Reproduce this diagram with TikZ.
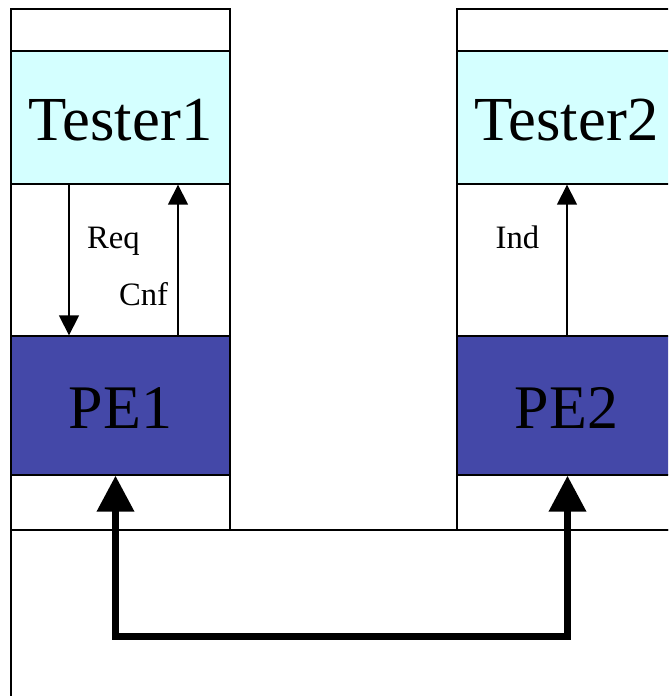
\documentclass[tikz,border=0pt]{standalone}
\usepackage{fontspec}
\setmainfont{Liberation Serif}
\usetikzlibrary{arrows.meta,calc}
\definecolor{testerfill}{RGB}{212,255,255}
\definecolor{pefill}{RGB}{68,72,168}
\tikzset{
  frame/.style={draw=black,line width=1pt},
  testerbox/.style={frame,fill=testerfill,minimum width=164.25pt,minimum height=99.75pt,
    text height=33.75pt,text depth=0pt,inner sep=0pt,font=\fontsize{47pt}{56pt}\selectfont},
  pebox/.style={frame,fill=pefill,minimum width=164.25pt,minimum height=104.25pt,
    text height=33.75pt,text depth=0pt,inner sep=0pt,font=\fontsize{46.5pt}{56pt}\selectfont},
  msg/.style={line width=1.1pt,-{Triangle[width=15pt,length=15pt]}},
  lbl/.style={anchor=base,inner sep=0pt,font=\fontsize{24.5pt}{29pt}\selectfont},
  bigarrow/.style={line width=5.25pt,{Triangle[width=27pt,length=27pt]}-{Triangle[width=27pt,length=27pt]}}
}
\begin{document}
\begin{tikzpicture}[x=0.75pt,y=-0.75pt]
\clip (0,0) rectangle (668,696);
\fill[white] (0,0) rectangle (668,696);
\useasboundingbox (0,0) rectangle (668,696);
% columns and lower area
\draw[frame] (11,9) rectangle (230,530);
\draw[frame] (457,9) rectangle (676,530);
\draw[frame] (11,530) rectangle (700,720);
% boxes
\node[testerbox] (T1) at (120.5,117.5) {Tester1};
\node[testerbox] (T2) at (566.5,117.5) {Tester2};
\node[pebox] (PE1) at (120.5,405.5) {PE1};
\node[pebox] (PE2) at (566.5,405.5) {PE2};
% messages
\draw[msg] ($(T1.south)+(-51.5,0)$) -- ($(PE1.north)+(-51.5,0)$);
\draw[msg] ($(PE1.north)+(57.5,0)$) -- ($(T1.south)+(57.5,0)$);
\draw[msg] ($(PE2.north)+(0.5,0)$) -- ($(T2.south)+(0.5,0)$);
\node[lbl] (req) at (113.5,248) {Req};
\node[lbl] (cnf) at (143.5,305) {Cnf};
\node[lbl] (ind) at (517.5,248) {Ind};
% link between PEs
\coordinate (low) at (0,636.5);
\draw[bigarrow] ($(PE1.south)+(-5,0)$) |- ($(low -| PE2.south)+(1,0)$) -- ($(PE2.south)+(1,0)$);
\end{tikzpicture}
\end{document}
